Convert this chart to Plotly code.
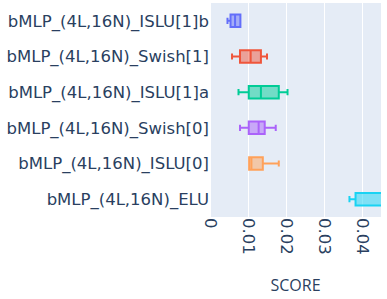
import plotly.graph_objects as go

names = ["bMLP_(4L,16N)_ISLU[1]b", "bMLP_(4L,16N)_Swish[1]", "bMLP_(4L,16N)_ISLU[1]a",
         "bMLP_(4L,16N)_Swish[0]", "bMLP_(4L,16N)_ISLU[0]", "bMLP_(4L,16N)_ELU"]
q1 = [0.0054, 0.0079, 0.0102, 0.0102, 0.0103, 0.0383]
median = [0.0066, 0.0107, 0.0134, 0.0128, 0.0109, 0.047]
q3 = [0.0080, 0.0134, 0.0181, 0.0144, 0.0139, 0.052]
lowerfence = [0.0046, 0.0058, 0.0075, 0.0079, 0.0103, 0.0367]
upperfence = [0.0080, 0.0150, 0.0204, 0.0173, 0.0181, 0.060]
colors = ["#636efa", "#EF553B", "#00cc96", "#ab63fa", "#FFA15A", "#19d3f3"]

fig = go.Figure()
for i, n in enumerate(names):
    fig.add_trace(go.Box(
        y=[n], q1=[q1[i]], median=[median[i]], q3=[q3[i]],
        lowerfence=[lowerfence[i]], upperfence=[upperfence[i]],
        name=n, orientation="h", marker_color=colors[i], line_color=colors[i],
    ))

fig.update_layout(
    template="plotly",
    width=387, height=299,
    margin=dict(l=210, r=6, t=3, b=82),
    showlegend=False,
    boxgap=0.5,
    font=dict(size=16.5, family="DejaVu Sans"),
)
fig.update_xaxes(range=[0, 0.045], tickangle=90, dtick=0.01,
                 title=dict(text="SCORE", font=dict(family="Open Sans", size=16), standoff=26),
                 automargin=False)
fig.update_yaxes(autorange="reversed", automargin=False)
fig.write_html("out.html", config={"displayModeBar": False},
               post_script="document.body.style.margin='0';")
